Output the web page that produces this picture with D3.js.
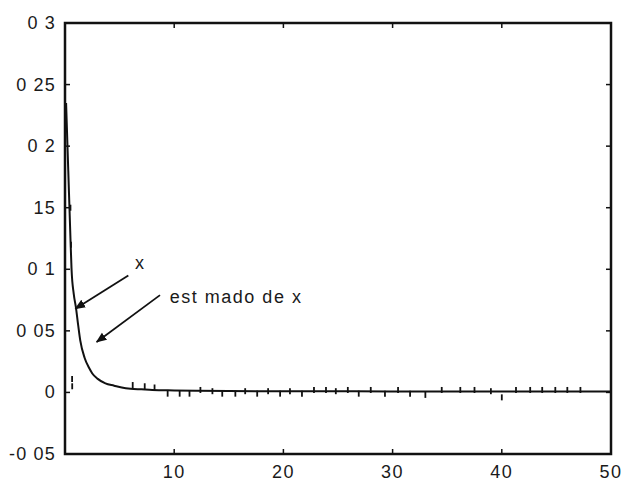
<!DOCTYPE html>
<html>
<head>
<meta charset="utf-8">
<script src="https://cdn.jsdelivr.net/npm/d3@7"></script>
<style>
  body { margin: 0; background: #fff; }
  svg text { font-family: "Liberation Sans", Arial, sans-serif; fill: #1a1a1a; }
</style>
</head>
<body>
<svg id="chart" width="624" height="483"></svg>
<script>
// true signal x(t)
var tTrue = [0.1, 0.3, 0.5, 0.6, 0.8, 1.0, 1.2, 1.4, 1.8, 2.2, 2.5, 3.0, 3.7, 4.5, 5.2, 6, 7, 8, 10, 12, 15, 20, 25, 30, 35, 40, 45, 50];
var xTrue = [0.235, 0.18, 0.125, 0.1, 0.08, 0.069, 0.055, 0.042, 0.028, 0.02, 0.0154, 0.011, 0.0073, 0.0055, 0.004, 0.003, 0.0025, 0.002, 0.0016, 0.0013, 0.0011, 0.001, 0.0009, 0.0008, 0.0008, 0.0008, 0.0008, 0.0008];

// estimate of x, one sample per step
var tEst = [0.5, 0.55, 0.65, 0.66, 6.2, 7.3, 8.2, 9.4, 10.5, 11.4, 12.4, 13.5, 14.4, 15.6, 16.5, 17.6, 18.6, 19.7, 20.6, 21.7, 22.8, 23.9, 24.8, 25.9, 26.9, 28.0, 29.3, 30.5, 31.6, 33.0, 34.5, 36.2, 37.5, 39.0, 40.0, 41.3, 42.6, 43.7, 44.9, 46.0, 47.2];
var xEst = [0.15, 0.12, 0.011, 0.005, 0.006, 0.005, 0.004, -0.001, -0.001, -0.001, 0.002, 0.001, -0.001, -0.001, 0.001, -0.001, 0.001, -0.001, 0.001, -0.001, 0.002, 0.002, 0.001, 0.002, -0.001, 0.002, -0.001, 0.002, -0.001, -0.002, 0.002, 0.002, 0.002, 0.001, -0.004, 0.002, 0.002, 0.002, 0.002, 0.002, 0.002];

var xTicks = [10, 20, 30, 40, 50];
var yTicks = [-0.05, 0, 0.05, 0.1, 0.15, 0.2, 0.25, 0.3];
var yTickLabels = ["-0 05", "0", "0 05", "0 1", "15", "0 2", "0 25", "0 3"];

// annotations: [text, textT, textX, arrowFromT, arrowFromX, arrowToT, arrowToX]
var notes = [
  ["x", 6.4, 0.1, 5.8, 0.095, 0.95, 0.068],
  ["est mado de x", 9.6, 0.073, 8.7, 0.079, 2.9, 0.041]
];

var svg = d3.select("#chart"),
    plotLeft = 65, plotRight = 611, plotTop = 23, plotBottom = 454;

var x = d3.scaleLinear().domain([0, 50]).range([plotLeft, plotRight]);
var y = d3.scaleLinear().domain([-0.05, 0.3]).range([plotBottom, plotTop]);

// box
svg.append("rect")
  .attr("x", plotLeft).attr("y", plotTop)
  .attr("width", plotRight - plotLeft).attr("height", plotBottom - plotTop)
  .attr("fill", "none").attr("stroke", "#111").attr("stroke-width", 2.5);

// inward ticks, all four sides
var tickLen = 5;
svg.append("g").selectAll("line").data(xTicks).enter().append("line")
  .attr("x1", d => x(d)).attr("x2", d => x(d))
  .attr("y1", plotBottom).attr("y2", plotBottom - tickLen)
  .attr("stroke", "#111").attr("stroke-width", 1.5);
svg.append("g").selectAll("line").data(xTicks).enter().append("line")
  .attr("x1", d => x(d)).attr("x2", d => x(d))
  .attr("y1", plotTop).attr("y2", plotTop + tickLen)
  .attr("stroke", "#111").attr("stroke-width", 1.5);
svg.append("g").selectAll("line").data(yTicks).enter().append("line")
  .attr("x1", plotLeft).attr("x2", plotLeft + tickLen)
  .attr("y1", d => y(d)).attr("y2", d => y(d))
  .attr("stroke", "#111").attr("stroke-width", 1.5);
svg.append("g").selectAll("line").data(yTicks).enter().append("line")
  .attr("x1", plotRight).attr("x2", plotRight - tickLen)
  .attr("y1", d => y(d)).attr("y2", d => y(d))
  .attr("stroke", "#111").attr("stroke-width", 1.5);

// tick labels
svg.append("g").selectAll("text").data(xTicks).enter().append("text")
  .attr("x", d => x(d)).attr("y", plotBottom + 24)
  .attr("text-anchor", "middle").attr("font-size", 18)
  .attr("letter-spacing", 1.5)
  .text(d => d);
svg.append("g").selectAll("text").data(yTicks).enter().append("text")
  .attr("x", plotLeft - 9).attr("y", d => y(d) + 6)
  .attr("text-anchor", "end").attr("font-size", 18)
  .attr("letter-spacing", 1.2)
  .text((d, i) => yTickLabels[i]);

// true curve
var line = d3.line().x((d, i) => x(tTrue[i])).y(d => y(d)).curve(d3.curveMonotoneX);
svg.append("path")
  .datum(xTrue)
  .attr("d", line)
  .attr("fill", "none").attr("stroke", "#111").attr("stroke-width", 2);

// estimate markers
svg.append("g").selectAll("line").data(xEst).enter().append("line")
  .attr("x1", (d, i) => x(tEst[i])).attr("x2", (d, i) => x(tEst[i]))
  .attr("y1", d => y(d) - 3).attr("y2", d => y(d) + 3)
  .attr("stroke", "#111").attr("stroke-width", 1.8);

// arrows
var defs = svg.append("defs");
defs.append("marker")
  .attr("id", "head").attr("viewBox", "0 0 10 10")
  .attr("refX", 9).attr("refY", 5)
  .attr("markerWidth", 6).attr("markerHeight", 6)
  .attr("orient", "auto")
  .append("path").attr("d", "M0,1 L10,5 L0,9 z").attr("fill", "#111");

notes.forEach(function (n) {
  svg.append("line")
    .attr("x1", x(n[3])).attr("y1", y(n[4]))
    .attr("x2", x(n[5])).attr("y2", y(n[6]))
    .attr("stroke", "#111").attr("stroke-width", 1.8)
    .attr("marker-end", "url(#head)");
  svg.append("text")
    .attr("x", x(n[1])).attr("y", y(n[2]))
    .attr("font-size", 18)
    .attr("letter-spacing", 1.5)
    .text(n[0]);
});
</script>
</body>
</html>
